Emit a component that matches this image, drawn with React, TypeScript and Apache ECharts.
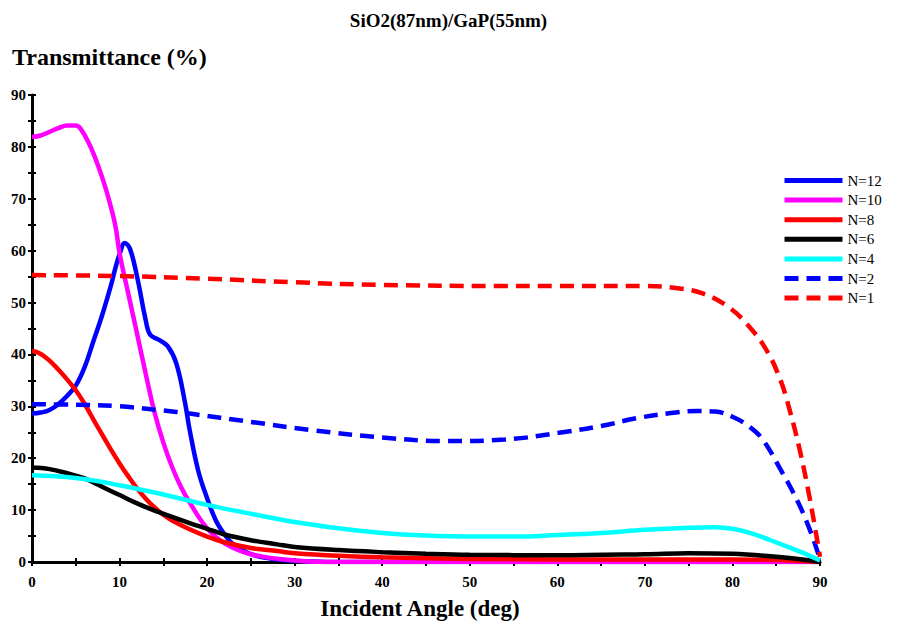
import React, { useEffect, useRef } from "react";
import * as echarts from "echarts";

const titleText = "SiO2(87nm)/GaP(55nm)";
const yTitle = "Transmittance (%)";
const xTitle = "Incident Angle (deg)";
const seriesNames = ["N=12", "N=10", "N=8", "N=6", "N=4", "N=2", "N=1"];
const seriesColors = ["#0000ff", "#ff00ff", "#ff0000", "#000000", "#00ffff", "#0000ff", "#ff0000"];
const seriesDashed = [false, false, false, false, false, true, true];

const n12Angles = [0, 1, 2, 3, 4, 5, 6, 7, 8, 9, 9.5, 10, 10.6, 11.2, 12, 13, 13.5, 14.5, 15.5, 16.5, 17.5, 18, 19, 20, 21, 22, 23, 25, 28, 32, 36, 40, 50, 60, 70, 80, 90];
const n12Values = [28.6, 28.8, 29.3, 30.4, 32, 34, 37.5, 42.5, 47.5, 53.2, 56.5, 59.3, 61.5, 60.3, 55, 46.5, 43.8, 42.8, 41.6, 38.2, 30.5, 25.5, 17.5, 12.3, 8, 5.3, 3.4, 1.5, 0.5, 0.1, 0, 0, 0, 0, 0, 0, 0];

const n10Angles = [0, 1, 2, 3, 4, 5, 5.5, 6.5, 7.5, 8.5, 9.5, 10, 11, 12, 13, 14, 15, 16, 17, 18, 20, 22, 25, 30, 35, 40, 50, 60, 70, 80, 90];
const n10Values = [81.9, 82.2, 82.9, 83.6, 84.1, 84.1, 83.6, 80.7, 76.6, 71.5, 65, 59.5, 51.7, 44, 36.2, 28.8, 23, 18.3, 14.5, 11.5, 6.5, 3.6, 1.5, 0.3, 0, 0, 0, 0, 0, 0, 0];

const n8Angles = [0, 1, 2, 3, 4, 5, 6, 7, 8, 9, 10, 11, 12, 13, 14, 15, 16, 18, 20, 22, 25, 28, 30, 35, 40, 50, 60, 70, 80, 85, 90];
const n8Values = [40.7, 40.1, 38.8, 37.1, 35.2, 33.1, 30.5, 27.5, 24.6, 21.7, 19, 16.5, 14.2, 12.2, 10.5, 9.1, 8, 6.3, 4.9, 3.8, 2.7, 2.1, 1.7, 1.2, 0.9, 0.6, 0.5, 0.5, 0.5, 0.4, 0];

const n6Angles = [0, 2, 4, 6, 8, 10, 12, 14, 16, 18, 20, 22, 25, 28, 30, 35, 40, 45, 50, 60, 70, 75, 80, 85, 88, 90];
const n6Values = [18.2, 17.9, 17.1, 16.1, 14.5, 12.9, 11.3, 9.9, 8.7, 7.5, 6.4, 5.3, 4.2, 3.4, 2.9, 2.3, 1.9, 1.6, 1.4, 1.3, 1.5, 1.7, 1.6, 1.0, 0.5, 0];

const n4Angles = [0, 5, 10, 15, 20, 25, 30, 35, 40, 45, 50, 55, 60, 65, 70, 75, 78, 80, 82, 85, 88, 90];
const n4Values = [16.7, 16.2, 14.8, 13, 11, 9.3, 7.7, 6.5, 5.6, 5.1, 4.9, 4.9, 5.2, 5.6, 6.2, 6.6, 6.7, 6.4, 5.6, 3.8, 1.8, 0.3];

const n2Angles = [0, 5, 10, 15, 18, 25, 32, 40, 47, 54, 61, 65, 69, 73, 76, 78, 80, 82, 83.5, 85.5, 87.5, 89, 90];
const n2Values = [30.4, 30.3, 30, 29.2, 28.6, 27, 25.4, 24, 23.3, 23.6, 25.1, 26.2, 27.7, 28.7, 29.1, 29, 28, 26, 23.5, 17.8, 11.5, 5.5, 0.5];

const n1Angles = [0, 10, 20, 30, 40, 53, 60, 70, 73.5, 76.5, 79.5, 82, 84, 85.5, 86.5, 87.7, 88.8, 89.7, 90];
const n1Values = [55.3, 55.1, 54.6, 53.9, 53.4, 53.2, 53.2, 53.2, 52.8, 51.8, 49.2, 45.2, 40.5, 35, 29.5, 21.5, 12.5, 4, 1];

const allAngles = [n12Angles, n10Angles, n8Angles, n6Angles, n4Angles, n2Angles, n1Angles];
const allValues = [n12Values, n10Values, n8Values, n6Values, n4Values, n2Values, n1Values];

const serif = "'Liberation Serif', 'Times New Roman', serif";

export default function App() {
  const ref = useRef<HTMLDivElement>(null);
  useEffect(() => {
    document.body.style.margin = "0";
    if (!ref.current) return;
    const chart = echarts.init(ref.current, undefined, { renderer: "svg" });
    const series = seriesNames.map((name, i) => ({
      name,
      type: "line",
      xAxisIndex: 0,
      yAxisIndex: 0,
      data: allAngles[i].map((a, j) => [a, allValues[i][j]]),
      smooth: 0.4,
      showSymbol: false,
      symbol: "none",
      lineStyle: {
        color: seriesColors[i],
        width: 4.5,
        type: seriesDashed[i] ? [14, 8] : "solid",
      },
      itemStyle: { color: seriesColors[i] },
    }));
    const axisLineStyle = { color: "#000", width: 3 };
    const tickStyle = { color: "#000", width: 2 };
    const labelStyle = { color: "#000", fontFamily: serif, fontWeight: "bold" as const, fontSize: 15 };
    chart.setOption({
      animation: false,
      backgroundColor: "#fff",
      title: [
        {
          text: titleText,
          left: "center",
          top: 6,
          textStyle: { fontFamily: serif, fontWeight: "bold", fontSize: 19, color: "#000" },
        },
        {
          text: yTitle,
          left: 7,
          top: 40,
          textStyle: { fontFamily: serif, fontWeight: "bold", fontSize: 24, color: "#000" },
        },
      ],
      legend: {
        orient: "vertical",
        left: 777,
        top: 168,
        itemWidth: 58,
        itemHeight: 12,
        itemGap: 4.6,
        itemStyle: { opacity: 0 },
        lineStyle: { width: 5 },
        textStyle: { fontFamily: serif, fontSize: 15, color: "#000" },
        data: seriesNames,
      },
      grid: { left: 32, right: 77, top: 95, bottom: 65, containLabel: false },
      xAxis: [
        {
          type: "value",
          min: 0,
          max: 90,
          interval: 10,
          axisLine: { show: true, lineStyle: axisLineStyle },
          axisTick: { show: true, length: 4, lineStyle: tickStyle },
          minorTick: { show: true, splitNumber: 2, length: 4, lineStyle: tickStyle },
          splitLine: { show: false },
          axisLabel: { ...labelStyle, margin: 12 },
          name: xTitle,
          nameLocation: "middle",
          nameGap: 35,
          nameTextStyle: { fontFamily: serif, fontWeight: "bold", fontSize: 23, color: "#000", padding: [0, 12, 0, 0] },
        },
        {
          type: "value",
          min: 0,
          max: 90,
          interval: 10,
          position: "bottom",
          axisLine: { show: false },
          axisTick: { show: true, inside: true, length: 4, lineStyle: tickStyle },
          minorTick: { show: true, splitNumber: 2, length: 4, lineStyle: tickStyle },
          splitLine: { show: false },
          axisLabel: { show: false },
        },
      ],
      yAxis: [
        {
          type: "value",
          min: 0,
          max: 90,
          interval: 10,
          axisLine: { show: true, lineStyle: axisLineStyle },
          axisTick: { show: true, length: 4, lineStyle: tickStyle },
          minorTick: { show: true, splitNumber: 2, length: 4, lineStyle: tickStyle },
          splitLine: { show: false },
          axisLabel: { ...labelStyle, margin: 6 },
        },
        {
          type: "value",
          min: 0,
          max: 90,
          interval: 10,
          position: "left",
          axisLine: { show: false },
          axisTick: { show: true, inside: true, length: 4, lineStyle: tickStyle },
          minorTick: { show: true, splitNumber: 2, length: 4, lineStyle: tickStyle },
          splitLine: { show: false },
          axisLabel: { show: false },
        },
      ],
      series,
    });
    return () => chart.dispose();
  }, []);
  return <div ref={ref} style={{ width: 897, height: 627 }} />;
}
